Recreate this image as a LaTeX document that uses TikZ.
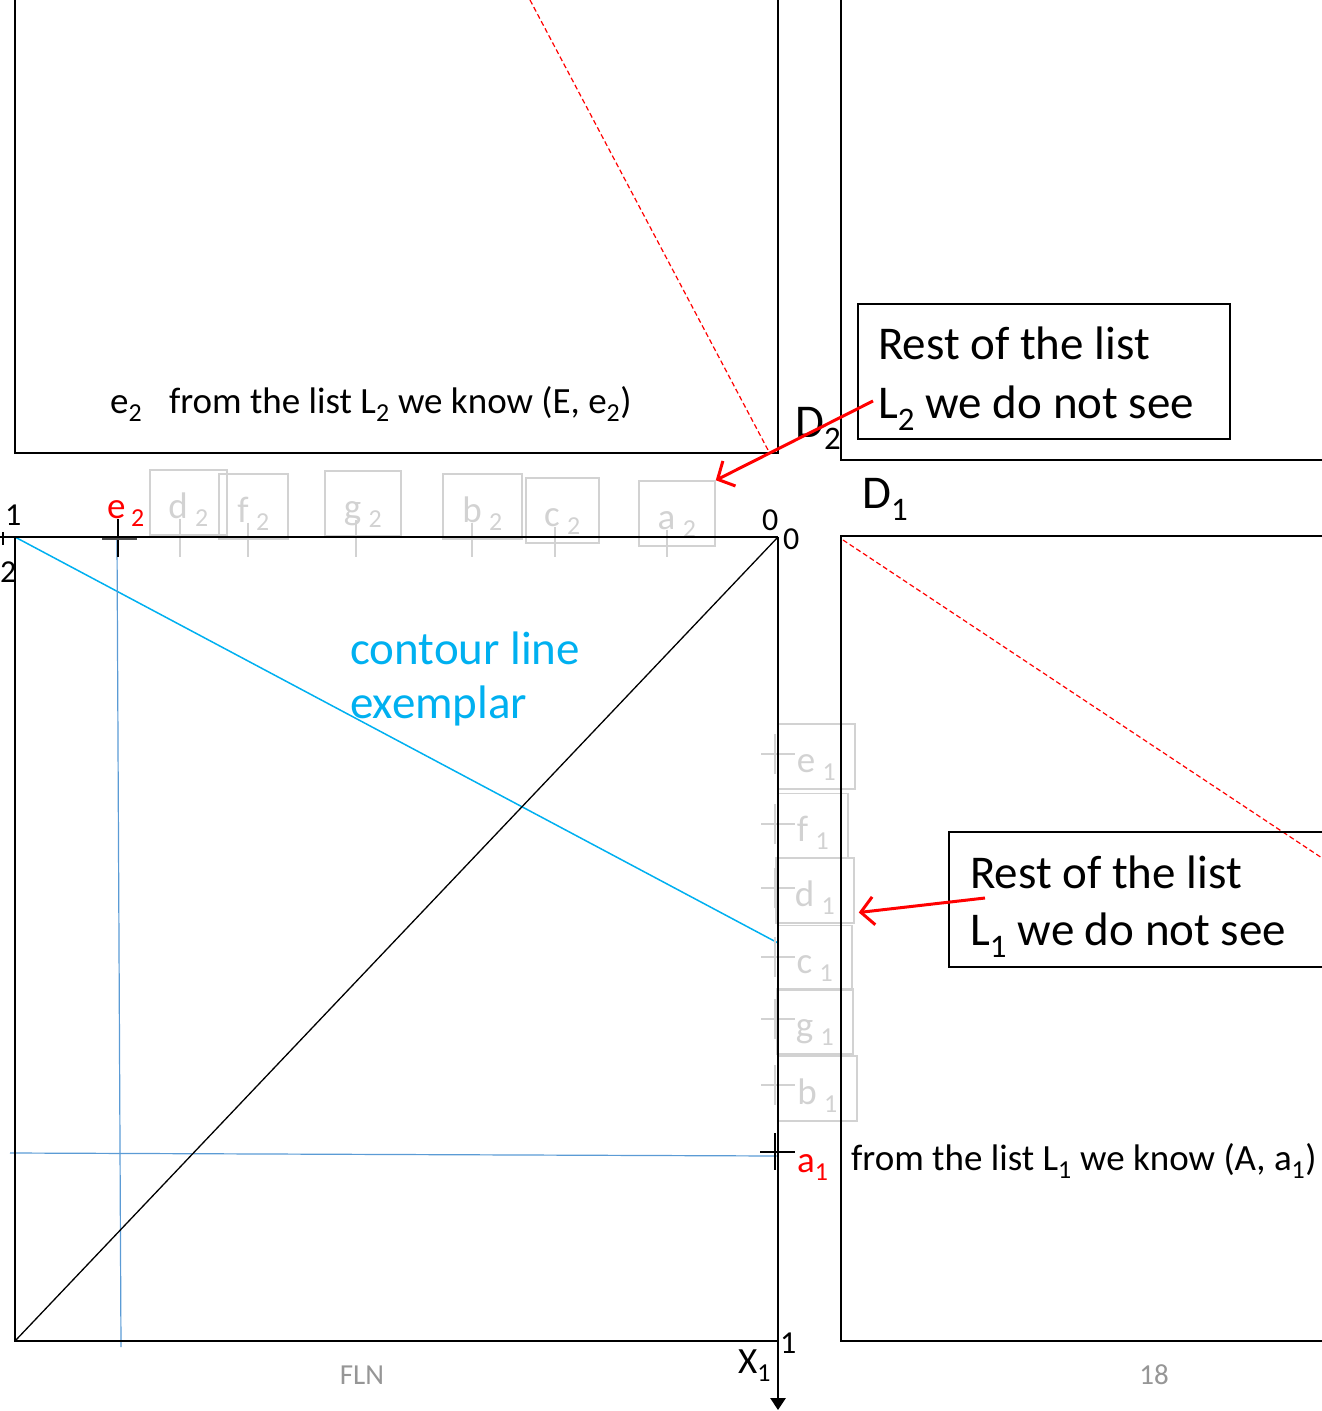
\documentclass[tikz,border=0pt]{standalone}
\usepackage{fontspec}
\setmainfont{Carlito}
\usetikzlibrary{arrows.meta}
\definecolor{listred}{RGB}{255,0,0}
\definecolor{contourblue}{RGB}{0,176,240}
\definecolor{gridblue}{RGB}{91,155,213}
\definecolor{ghost}{RGB}{210,210,210}
\definecolor{footgray}{RGB}{150,150,150}

\begin{document}
\begin{tikzpicture}[x=1pt,y=-1pt,
    frame/.style={line width=2.8pt},
    ghostbox/.style={draw=ghost,line width=1.5pt,text=ghost,inner sep=0pt,minimum height=65pt,
                     text height=34pt,text depth=3pt,font=\fontsize{37}{44}\selectfont},
    ghosttick/.style={draw=ghost,line width=1.3pt},
    callout/.style={draw,line width=1.8pt,inner sep=0pt},
    big/.style={inner sep=0pt,anchor=base west,font=\fontsize{47}{57}\selectfont},
    small/.style={inner sep=0pt,anchor=base west,font=\fontsize{37}{44}\selectfont},
    digit/.style={inner sep=0pt,anchor=base west,font=\fontsize{32}{38}\selectfont},
    diag/.style={listred,dash pattern=on 5pt off 3pt,line width=1.2pt},
    redarrow/.style={draw=listred,line width=3pt,-{Straight Barb[length=13pt,width=28pt]}}]
  \useasboundingbox (0,0) rectangle (1322,1411);
  \clip (0,0) rectangle (1322,1411);

  % contour line and the two known values
  \draw [contourblue,line width=1.5pt] (15,537) -- (778,943);
  \draw [gridblue,line width=1.2pt] (117,540) -- (121,1347);
  \draw [gridblue,line width=1.2pt] (10,1153) -- (778,1156);
  \draw [black,line width=1.3pt] (15,1341) -- (778,537);

  % diagonals of D1 and D2
  \draw [diag] (530,0) -- (768,450);
  \draw [diag] (843,540) -- (1322,858);

  % unseen entries of L2 along the top axis
  \foreach \n/\cx/\cy/\w/\tx in {d/188.5/502.5/77/180, f/253.5/506.5/69/248, g/363/503.5/76/356,
                                  b/482.5/506.5/79/472, c/562.5/510.5/73/555, a/677/513.5/76/667}
    {\draw [ghosttick] (\tx,\cy+16) -- (\tx,557);
     \draw [ghosttick] (\tx-17,537) -- (\tx+17,537);
     \node [ghostbox,minimum width=\w pt] (\n2) at (\cx,\cy) {\n\hspace{.2em}\textsubscript{2}};}

  % unseen entries of L1 along the right axis
  \foreach \n/\cx/\cy/\w/\ty in {e/816.5/756.5/77/754, f/813/826/70/824, d/815/890.5/78/888,
                                  c/815/958/74/957, g/815/1021.5/76/1019, b/817.5/1088.5/79/1085}
    {\draw [ghosttick] (761,\ty) -- (795,\ty);
     \draw [ghosttick] (775,\ty-20) -- (775,\ty+20);
     \node [ghostbox,minimum width=\w pt] (\n1) at (\cx,\cy) {\n\hspace{.2em}\textsubscript{1}};}

  % the four panels
  \draw [frame] (15,-5) -- (15,453) -- (778,453) -- (778,-5);
  \draw [frame] (1330,460) -- (841,460) -- (841,-5);
  \draw [frame] (1330,536) -- (841,536) -- (841,1341) -- (1330,1341);
  \draw [frame] (15,537) -- (15,1341) -- (778,1341);
  \draw [frame] (0,537) -- (778,537);
  \draw [frame,-{Triangle[length=12pt,width=15pt]}] (778,537) -- (778,1410);
  \draw [line width=1.5pt] (3,532) -- (3,545);

  % axis ticks and labels
  \node [digit] (one2) at (5,525) {1};
  \node [digit] (two2) at (0,582) {2};
  \node [digit] (zero2) at (762,530) {0};
  \node [digit] (zero1) at (783,549) {0};
  \node [digit] (one1) at (780,1353) {1};
  \node [small] (x1) at (738,1373) {X\textsubscript{1}};
  \node [big] (d2lab) at (795,437) {D\textsubscript{2}};
  \node [big] (d1lab) at (862,508) {D\textsubscript{1}};

  % the known values e2 and a1
  \draw [line width=1.5pt] (118,519) -- (118,557);
  \draw [line width=1.2pt,black!70] (102,539) -- (137,539);
  \node [small,text=listred] (e2) at (107,518) {e\hspace{.15em}\textsubscript{2}};
  \draw [line width=1.5pt] (775,1133) -- (775,1170);
  \draw [line width=1.5pt] (760,1152) -- (795,1152);
  \node [small,text=listred] (a1) at (797,1172) {a\textsubscript{1}};

  \node [small] (known2) at (110,413) {e\textsubscript{2}\hspace{.5em} from the list L\textsubscript{2} we know (E, e\textsubscript{2})};
  \node [small] (known1) at (851,1170) {from the list L\textsubscript{1} we know (A, a\textsubscript{1})};

  \node [big,text=contourblue] (contour) at (350,664) {contour line};
  \node [big,text=contourblue] (exemplar) at (350,718) {exemplar};

  % callouts for the parts of the lists that stay hidden
  \node [callout,minimum width=372pt,minimum height=135pt] (rest2) at (1044,371.5) {};
  \node [big] (rest2a) at (878,359) {Rest of the list};
  \node [big] (rest2b) at (878,418) {L\textsubscript{2} we do not see};
  \node [callout,minimum width=380pt,minimum height=135pt] (rest1) at (1139,899.5) {};
  \node [big] (rest1a) at (970,888) {Rest of the list};
  \node [big] (rest1b) at (970,945) {L\textsubscript{1} we do not see};
  \coordinate (l2tail) at (873,401);
  \coordinate (l1tail) at (985,898);
  \draw [redarrow] (l2tail) -- (a2.north east);
  \draw [redarrow] (l1tail) -- ([shift={(4,22)}]d1.east);

  \node [inner sep=0pt,text=footgray,font=\fontsize{29}{34}\selectfont] (fln) at (362,1375) {FLN};
  \node [inner sep=0pt,text=footgray,font=\fontsize{29}{34}\selectfont] (page) at (1154,1375) {18};
\end{tikzpicture}
\end{document}
